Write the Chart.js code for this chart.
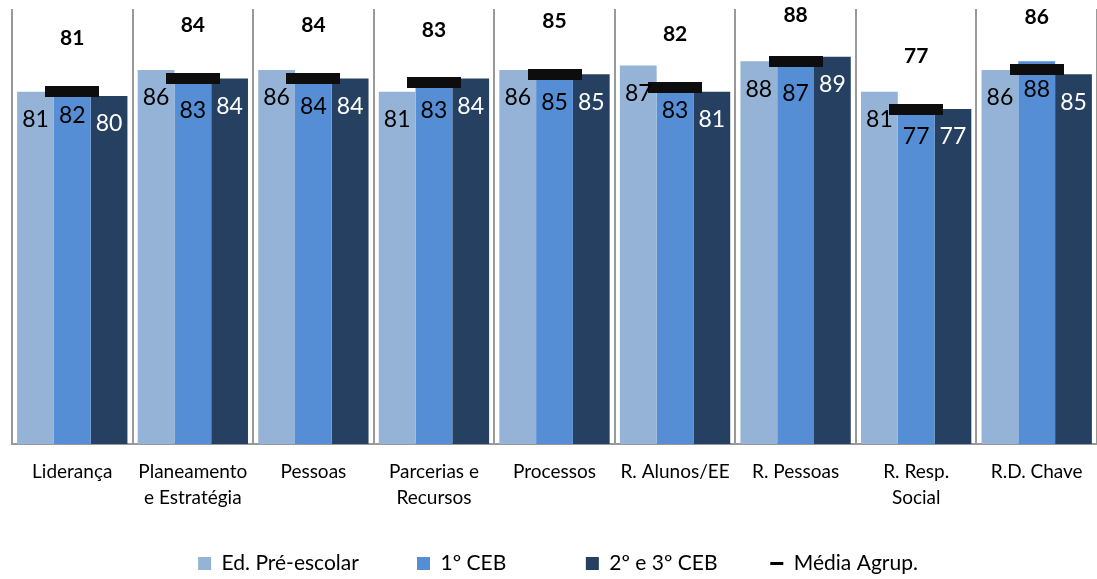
<!DOCTYPE html>
<html>
<head>
<meta charset="utf-8">
<script src="https://cdn.jsdelivr.net/npm/chart.js@4.4.0/dist/chart.umd.min.js"></script>
<style>
    html, body { margin: 0; padding: 0; background: #fff; overflow: hidden; }
    #wrap { width: 1104px; height: 584px; }
</style>
</head>
<body>
<div id="wrap"><canvas id="myChart"></canvas></div>
<script>
// categorias e valores
const categorias = [
    "Liderança",
    ["Planeamento", "e Estratégia"],
    "Pessoas",
    ["Parcerias e", "Recursos"],
    "Processos",
    "R. Alunos/EE",
    "R. Pessoas",
    ["R. Resp.", "Social"],
    "R.D. Chave"
];
const preEscolar = [81, 86, 86, 81, 86, 87, 88, 81, 86];
const ceb1 = [82, 83, 84, 83, 85, 83, 87, 77, 88];
const ceb23 = [80, 84, 84, 84, 85, 81, 89, 77, 85];
const mediaAgrup = [81, 84, 84, 83, 85, 82, 88, 77, 86];

const barColors = ["#95b3d7", "#558ed5", "#254061"];
const labelColors = ["#000", "#000", "#fff"];

// marcador preto da média (retângulo)
const marker = document.createElement("canvas");
marker.width = 54;
marker.height = 11;
const mctx = marker.getContext("2d");
mctx.fillStyle = "#0d0d0d";
mctx.fillRect(0, 0, 54, 11);

// espaçamento da legenda parecido com o Excel (colunas mais largas)
const legendFont = "21px Lato";
const legendTextWidth = [152, 102, 117, 0];
function padText(text, width) {
    mctx.font = legendFont;
    let t = text;
    while (mctx.measureText(t).width < width) {
        t += " ";
    }
    return t;
}

const labelsPlugin = {
    id: "valueLabels",
    afterDatasetsDraw(chart) {
        const ctx = chart.ctx;
        ctx.save();
        ctx.textAlign = "center";
        ctx.textBaseline = "middle";
        // valores dentro das barras
        for (let d = 0; d < 3; d++) {
            const meta = chart.getDatasetMeta(d);
            ctx.font = "23px Lato";
            ctx.fillStyle = labelColors[d];
            meta.data.forEach((bar, i) => {
                ctx.fillText(Math.round(chart.data.datasets[d].data[i]), bar.x, bar.y + 28);
            });
        }
        // valores da média, por cima
        const metaM = chart.getDatasetMeta(3);
        ctx.font = "bold 21px Lato";
        ctx.fillStyle = "#000";
        metaM.data.forEach((pt, i) => {
            ctx.fillText(mediaAgrup[i], pt.x, Math.max(pt.y - 53, 15));
        });
        ctx.restore();
    }
};

new Chart("myChart", {
    type: "bar",
    data: {
        labels: categorias,
        datasets: [
            { label: "Ed. Pré-escolar", data: preEscolar, backgroundColor: barColors[0], order: 2 },
            { label: "1º CEB", data: ceb1, backgroundColor: barColors[1], order: 2 },
            { label: "2º e 3º CEB", data: ceb23, backgroundColor: barColors[2], order: 2 },
            {
                label: "Média Agrup.",
                type: "line",
                data: mediaAgrup,
                showLine: false,
                pointStyle: marker,
                pointRadius: 6,
                borderColor: "#0d0d0d",
                backgroundColor: "#0d0d0d",
                order: 1
            }
        ]
    },
    options: {
        responsive: true,
        maintainAspectRatio: false,
        animation: false,
        layout: { padding: { left: 12, top: 9, right: 0, bottom: 0 } },
        datasets: {
            bar: { categoryPercentage: 0.915, barPercentage: 1.0 }
        },
        scales: {
            x: {
                grid: { color: "#999", lineWidth: 2, drawTicks: false, offset: true },
                border: { color: "#999", width: 2 },
                ticks: {
                    color: "#000",
                    padding: 15,
                    maxRotation: 0,
                    autoSkip: false,
                    font: { family: "Lato", size: 19, lineHeight: 1.37 }
                },
                afterFit: function (scale) {
                    scale.height = 67;
                }
            },
            y: {
                display: false,
                min: 0,
                max: 100
            }
        },
        plugins: {
            tooltip: { enabled: false },
            legend: {
                position: "bottom",
                labels: {
                    usePointStyle: true,
                    pointStyleWidth: 13,
                    boxHeight: 13,
                    padding: 42,
                    color: "#000",
                    font: { family: "Lato", size: 21 },
                    generateLabels: function (chart) {
                        return chart.data.datasets.map((ds, i) => ({
                            text: padText(ds.label, legendTextWidth[i]),
                            datasetIndex: i,
                            fillStyle: i < 3 ? barColors[i] : "#000",
                            strokeStyle: i < 3 ? barColors[i] : "#000",
                            lineWidth: i < 3 ? 0 : 3,
                            pointStyle: i < 3 ? "rect" : "line",
                            fontColor: "#000",
                            hidden: false
                        }));
                    }
                }
            }
        }
    },
    plugins: [labelsPlugin]
});
</script>
</body>
</html>
